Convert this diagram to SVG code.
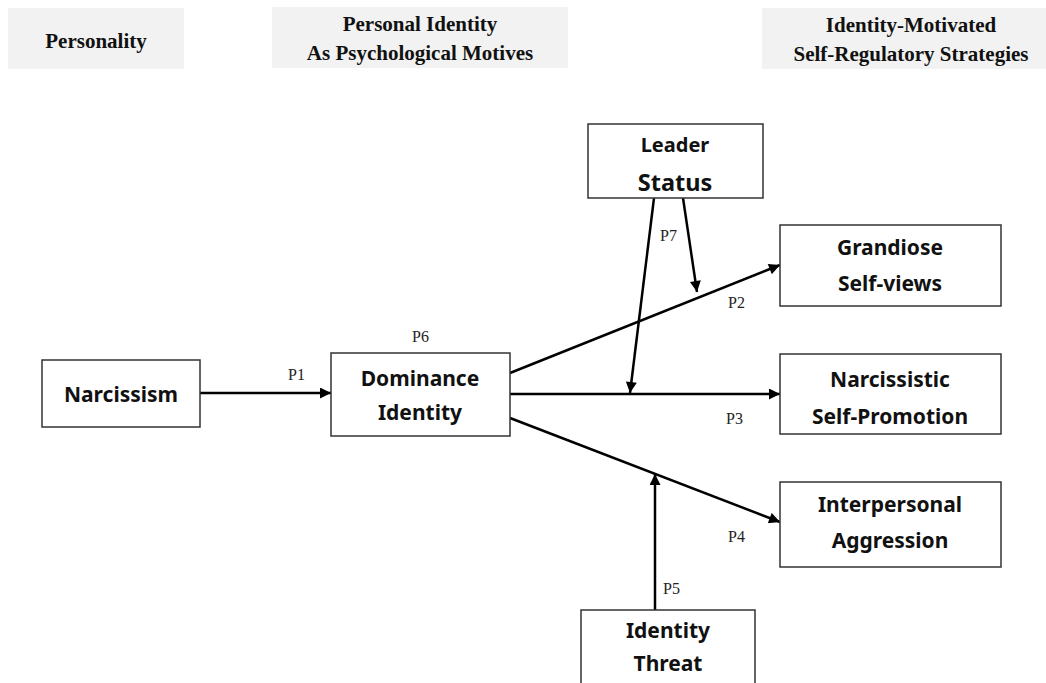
<svg xmlns="http://www.w3.org/2000/svg" width="1046" height="683" viewBox="0 0 1046 683">
<style>
.hdr{fill:#f2f2f2;stroke:none}
.ht{font-family:"Liberation Serif","Times New Roman",serif;font-weight:bold;font-size:21px;fill:#111;text-anchor:middle}
.box{fill:#fff;stroke:#333;stroke-width:1.5}
.nt{font-family:"Noto Sans","Open Sans",sans-serif;font-weight:bold;font-size:21px;fill:#111;text-anchor:middle}
.lbl{font-family:"Liberation Serif","Times New Roman",serif;font-size:16px;fill:#222}
.ln{stroke:#000;stroke-width:2.5;fill:none}
.arr{marker-end:url(#ah)}
</style>
<defs>
<marker id="ah" viewBox="0 0 10 10" refX="10" refY="5" markerWidth="5" markerHeight="4.4" markerUnits="strokeWidth" orient="auto">
<path d="M0,0 L10,5 L0,10 z" fill="#000"/>
</marker>
</defs>
<rect width="1046" height="683" fill="#fff"/>
<g id="header-personality">
<rect class="hdr" x="8" y="8" width="176" height="61"/>
<text class="ht" x="96" y="48">Personality</text>
</g>
<g id="header-identity">
<rect class="hdr" x="272" y="7" width="296" height="61"/>
<text class="ht" x="420" y="31">Personal Identity</text>
<text class="ht" x="420" y="60">As Psychological Motives</text>
</g>
<g id="header-strategies">
<rect class="hdr" x="762" y="8" width="284" height="61"/>
<text class="ht" x="911" y="32">Identity-Motivated</text>
<text class="ht" x="911" y="61">Self-Regulatory Strategies</text>
</g>
<g id="connectors">
<line class="ln arr" x1="200" y1="393" x2="331" y2="393"/>
<line class="ln arr" x1="510" y1="373" x2="780" y2="265"/>
<line class="ln arr" x1="510" y1="394" x2="780" y2="394"/>
<line class="ln arr" x1="510" y1="418" x2="780" y2="522"/>
<line class="ln arr" x1="655" y1="610" x2="655" y2="474"/>
<line class="ln arr" x1="654" y1="198" x2="630" y2="393"/>
<line class="ln arr" x1="683" y1="198" x2="697" y2="292"/>
<text class="lbl" x="288" y="380">P1</text>
<text class="lbl" x="412" y="342">P6</text>
<text class="lbl" x="660" y="241">P7</text>
<text class="lbl" x="728" y="308">P2</text>
<text class="lbl" x="726" y="424">P3</text>
<text class="lbl" x="728" y="542">P4</text>
<text class="lbl" x="663" y="594">P5</text>
</g>
<g id="narcissism">
<rect class="box" x="42" y="360" width="158" height="67"/>
<text class="nt" x="121" y="402">Narcissism</text>
</g>
<g id="dominance">
<rect class="box" x="331" y="353" width="179" height="83"/>
<text class="nt" x="420" y="386">Dominance</text>
<text class="nt" x="420" y="420">Identity</text>
</g>
<g id="leader-status">
<rect class="box" x="588" y="124" width="175" height="74"/>
<text class="nt" x="675" y="152" style="font-size:20px">Leader</text>
<text class="nt" x="675" y="191" style="font-size:23.5px">Status</text>
</g>
<g id="grandiose">
<rect class="box" x="780" y="225" width="221" height="81"/>
<text class="nt" x="890" y="255">Grandiose</text>
<text class="nt" x="890" y="291">Self-views</text>
</g>
<g id="self-promotion">
<rect class="box" x="780" y="354" width="221" height="80"/>
<text class="nt" x="890" y="387">Narcissistic</text>
<text class="nt" x="890" y="424">Self-Promotion</text>
</g>
<g id="aggression">
<rect class="box" x="780" y="482" width="221" height="85"/>
<text class="nt" x="890" y="512">Interpersonal</text>
<text class="nt" x="890" y="548">Aggression</text>
</g>
<g id="identity-threat">
<rect class="box" x="581" y="610" width="174" height="90"/>
<text class="nt" x="668" y="638">Identity</text>
<text class="nt" x="668" y="671">Threat</text>
</g>
</svg>
